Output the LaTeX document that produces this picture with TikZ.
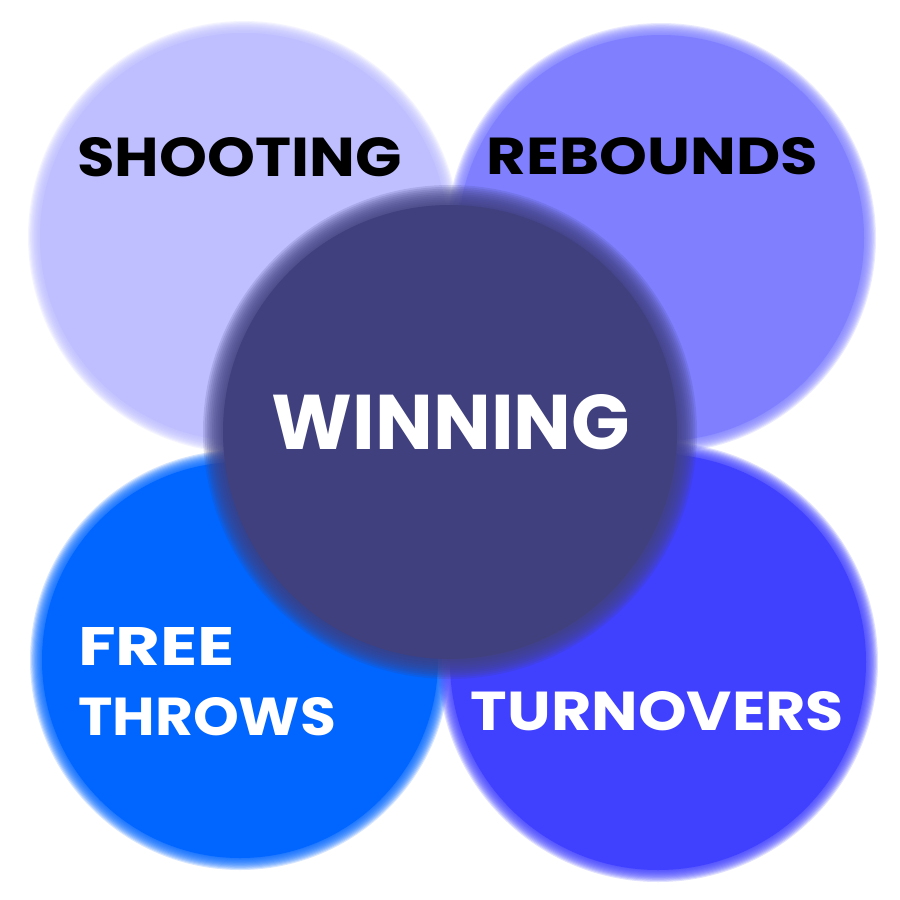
\documentclass[tikz,border=0pt]{standalone}
\usepackage{fontspec}
\newfontfamily\labfont{Poppins}
\definecolor{cTL}{HTML}{BFBFFF}
\definecolor{cTR}{HTML}{8080FF}
\definecolor{cBL}{HTML}{0066FF}
\definecolor{cBR}{HTML}{4040FF}
\definecolor{cMid}{HTML}{40407F}
\newcommand{\softdisc}[5]{% color, x, y, r, half blur width
  \foreach \k in {0,...,11}{\fill[#1, opacity=0.16] (#2,#3) circle[radius={#4+#5-2*#5*\k/11}];}
  \fill[#1] (#2,#3) circle[radius={#4-#5}];}
\tikzset{lab/.style={inner sep=0pt, outer sep=0pt, font=\labfont\bfseries}}
\begin{document}
\begin{tikzpicture}[x=1pt,y=-1pt]
\useasboundingbox[fill=white] (0,0) rectangle (900,900);
\softdisc{cTL}{244}{237}{210}{6}
\softdisc{cTR}{661}{238}{209}{6}
\softdisc{cBL}{240}{660}{204}{6}
\softdisc{cBR}{658}{662}{214}{6}
\softdisc{cMid}{450}{432}{237}{10}
\node[lab, text=black] (shoot) at (239.5,157) {\resizebox{324pt}{39pt}{SHOOTING}};
\node[lab, text=black] (reb) at (652.5,156) {\resizebox{331pt}{37pt}{REBOUNDS}};
\node[lab, text=white] (win) at (451,422.5) {\resizebox{358pt}{55pt}{WINNING}};
\node[lab, text=white, anchor=west] (free) at (78,646) {\resizebox{157pt}{38pt}{FREE}};
\node[lab, text=white, anchor=west] (throws) at (78,717) {\resizebox{258pt}{38pt}{THROWS}};
\node[lab, text=white] (turn) at (657.5,711.5) {\resizebox{373pt}{39pt}{TURNOVERS}};
\end{tikzpicture}
\end{document}
